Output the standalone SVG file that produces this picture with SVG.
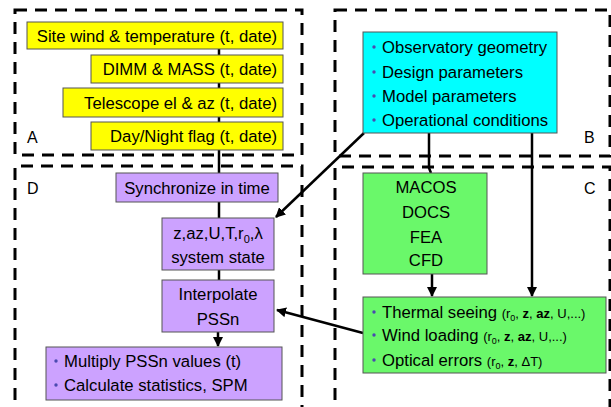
<svg xmlns="http://www.w3.org/2000/svg" width="611" height="407" viewBox="0 0 611 407">
<defs>
<marker id="ah" viewBox="0 0 10 10" refX="9" refY="5" markerWidth="4" markerHeight="4" orient="auto-start-reverse" markerUnits="strokeWidth">
<path d="M0,0 L10,5 L0,10 z" fill="#000"/>
</marker>
<style>
.dash{fill:none;stroke:#000;stroke-width:3;stroke-dasharray:12 8}
.t{font-family:"Liberation Sans",Arial,sans-serif;font-size:16.7px;fill:#000}
.s{font-family:"Liberation Sans",Arial,sans-serif;font-size:13px;fill:#000}
.lab{font-family:"Liberation Sans",Arial,sans-serif;font-size:16px;fill:#000}
.y{fill:#ffff00;stroke:#555;stroke-width:1}
.c{fill:#00ffff;stroke:#555;stroke-width:1}
.p{fill:#cca2ff;stroke:#555;stroke-width:1}
.g{fill:#6af86a;stroke:#555;stroke-width:1}
.b{fill:#4a4ab0}
.ln{stroke:#000;stroke-width:2.5;fill:none}
</style>
</defs>
<g id="regions">
<rect class="dash" x="15" y="10" width="287" height="145"/>
<rect class="dash" x="335" y="10" width="275" height="146"/>
<path class="dash" d="M15,420 V166 H302 V420"/>
<path class="dash" d="M335,420 V167 H610 V420"/>
<text class="lab" x="27" y="143">A</text>
<text class="lab" x="584" y="143">B</text>
<text class="lab" x="584" y="194">C</text>
<text class="lab" x="27" y="194">D</text>
</g>
<g id="connectors">
<line class="ln" x1="219" y1="49" x2="219" y2="173"/>
<line class="ln" x1="219" y1="202" x2="219" y2="218"/>
<line class="ln" x1="219" y1="270" x2="219" y2="280"/>
<line class="ln" x1="218" y1="332" x2="218" y2="346" marker-end="url(#ah)"/>
<line class="ln" x1="364" y1="133" x2="276" y2="217" marker-end="url(#ah)"/>
<path class="ln" d="M429,133 V168 L431,173"/>
<line class="ln" x1="432" y1="274" x2="432" y2="296" marker-end="url(#ah)"/>
<line class="ln" x1="532" y1="133" x2="532" y2="296" marker-end="url(#ah)"/>
<line class="ln" x1="363" y1="333" x2="277" y2="310" marker-end="url(#ah)"/>
</g>
<g id="site-wind">
<rect class="y" x="27" y="22" width="256" height="27"/>
<text class="t" x="277" y="41.5" text-anchor="end">Site wind &amp; temperature (t, date)</text>
</g>
<g id="dimm">
<rect class="y" x="91" y="55" width="192" height="28"/>
<text class="t" x="277" y="75" text-anchor="end">DIMM &amp; MASS (t, date)</text>
</g>
<g id="telescope">
<rect class="y" x="63" y="88" width="220" height="29"/>
<text class="t" x="277" y="109" text-anchor="end">Telescope el &amp; az (t, date)</text>
</g>
<g id="daynight">
<rect class="y" x="91" y="122" width="192" height="28"/>
<text class="t" x="277" y="142" text-anchor="end">Day/Night flag (t, date)</text>
</g>
<g id="observatory">
<rect class="c" x="363" y="32" width="194" height="101"/>
<circle class="b" cx="374" cy="47" r="1.7"/>
<text class="t" x="382" y="53">Observatory geometry</text>
<circle class="b" cx="374" cy="72" r="1.7"/>
<text class="t" x="382" y="78">Design parameters</text>
<circle class="b" cx="374" cy="96" r="1.7"/>
<text class="t" x="382" y="102">Model parameters</text>
<circle class="b" cx="374" cy="120" r="1.7"/>
<text class="t" x="382" y="126">Operational conditions</text>
</g>
<g id="synchronize">
<rect class="p" x="116" y="173" width="162" height="29"/>
<text class="t" x="197" y="193.5" text-anchor="middle">Synchronize in time</text>
</g>
<g id="system-state">
<rect class="p" x="162" y="218" width="112" height="52"/>
<text class="t" x="218" y="239" text-anchor="middle">z,az,U,T,r<tspan font-size="11" dy="4">0</tspan><tspan dy="-4">,λ</tspan></text>
<text class="t" x="218" y="263" text-anchor="middle">system state</text>
</g>
<g id="interpolate">
<rect class="p" x="162" y="280" width="112" height="52"/>
<text class="t" x="218" y="300" text-anchor="middle">Interpolate</text>
<text class="t" x="218" y="325" text-anchor="middle">PSSn</text>
</g>
<g id="multiply">
<rect class="p" x="46" y="347" width="236" height="53"/>
<circle class="b" cx="56" cy="361" r="1.7"/>
<text class="t" x="64" y="367">Multiply PSSn values (t)</text>
<circle class="b" cx="56" cy="385" r="1.7"/>
<text class="t" x="64" y="391">Calculate statistics, SPM</text>
</g>
<g id="macos">
<rect class="g" x="363" y="173" width="124" height="101"/>
<text class="t" x="426" y="193" text-anchor="middle">MACOS</text>
<text class="t" x="426" y="218" text-anchor="middle">DOCS</text>
<text class="t" x="426" y="243" text-anchor="middle">FEA</text>
<text class="t" x="426" y="266" text-anchor="middle">CFD</text>
</g>
<g id="effects">
<rect class="g" x="363" y="297" width="243" height="76"/>
<circle class="b" cx="374" cy="312" r="1.7"/>
<text class="t" x="382" y="318">Thermal seeing <tspan class="s">(r<tspan font-size="9" dy="3">0</tspan><tspan dy="-3">, </tspan><tspan font-weight="bold">z</tspan>, <tspan font-weight="bold">az</tspan>, U,...)</tspan></text>
<circle class="b" cx="374" cy="335" r="1.7"/>
<text class="t" x="382" y="341">Wind loading <tspan class="s">(r<tspan font-size="9" dy="3">0</tspan><tspan dy="-3">, </tspan><tspan font-weight="bold">z</tspan>, <tspan font-weight="bold">az</tspan>, U,...)</tspan></text>
<circle class="b" cx="374" cy="360" r="1.7"/>
<text class="t" x="382" y="366">Optical errors <tspan class="s">(r<tspan font-size="9" dy="3">0</tspan><tspan dy="-3">, </tspan><tspan font-weight="bold">z</tspan>, ΔT)</tspan></text>
</g>
</svg>
